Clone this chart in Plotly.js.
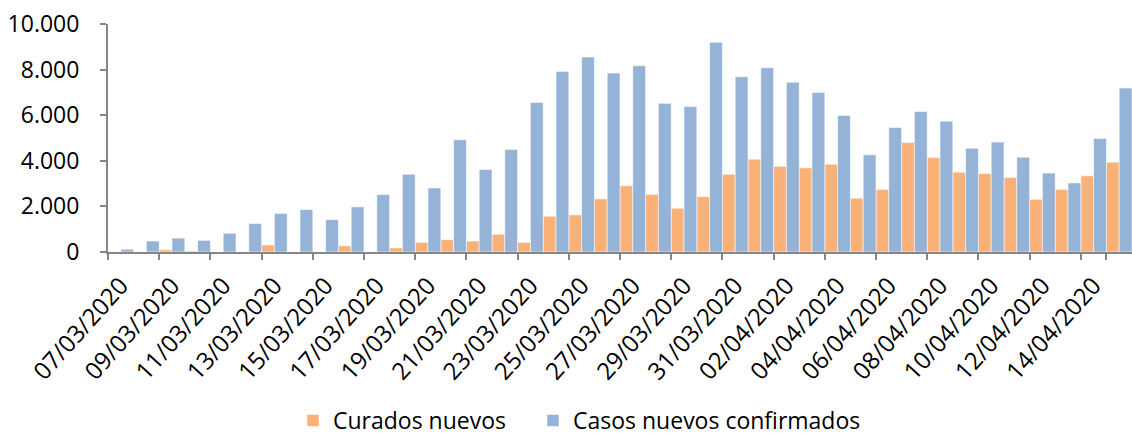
<!DOCTYPE html>
<html>
<head>
<meta charset="utf-8">
<script src="https://cdn.plot.ly/plotly-3.0.1.min.js"></script>
<style>
html,body{margin:0;padding:0;background:#fff;}
#chart{width:1132px;height:442px;}
</style>
</head>
<body>
<div id="chart"></div>
<script>
var dates = ["07/03/2020","08/03/2020","09/03/2020","10/03/2020","11/03/2020","12/03/2020","13/03/2020","14/03/2020","15/03/2020","16/03/2020",
"17/03/2020","18/03/2020","19/03/2020","20/03/2020","21/03/2020","22/03/2020","23/03/2020","24/03/2020","25/03/2020","26/03/2020",
"27/03/2020","28/03/2020","29/03/2020","30/03/2020","31/03/2020","01/04/2020","02/04/2020","03/04/2020","04/04/2020","05/04/2020",
"06/04/2020","07/04/2020","08/04/2020","09/04/2020","10/04/2020","11/04/2020","12/04/2020","13/04/2020","14/04/2020","15/04/2020"];

var curadosNuevos = [0,0,100,45,0,0,310,0,0,270,
0,180,420,540,480,780,420,1570,1630,2330,
2910,2530,1920,2430,3410,4070,3760,3690,3850,2360,
2750,4800,4140,3500,3440,3270,2310,2750,3340,3940];

var casosNuevos = [120,480,610,510,820,1250,1690,1860,1420,1980,
2520,3410,2810,4920,3620,4500,6560,7920,8550,7850,
8170,6520,6380,9200,7690,8080,7450,7000,5990,4260,
5460,6160,5740,4550,4820,4160,3460,3030,4980,7190];

var yTicks = [0,2000,4000,6000,8000,10000];

var labelVals = dates.filter(function(d,i){return i%2===0;});

var font = "'Open Sans', sans-serif";

var traces = [
  {type:"bar", name:"Curados nuevos", x:dates, y:curadosNuevos, legend:"legend",
   marker:{color:"#F9B178", line:{color:"rgba(255,255,255,0.55)", width:1}}},
  {type:"bar", name:"Casos nuevos confirmados", x:dates, y:casosNuevos, legend:"legend2",
   marker:{color:"#95B3D7", line:{color:"rgba(255,255,255,0.55)", width:1}}}
];

var legendFont = {family:font, size:23, color:"#000"};

var layout = {
  width:1132, height:442,
  margin:{l:108, r:0, t:24, b:190},
  paper_bgcolor:"#fff", plot_bgcolor:"#fff",
  separators:",.",
  barmode:"group", bargap:0, bargroupgap:0,
  font:{family:font, size:23, color:"#000"},
  showlegend:true,
  legend:{orientation:"h", xref:"container", yref:"container",
          x:293/1132, xanchor:"left", y:0, yanchor:"bottom",
          font:legendFont, itemclick:false},
  legend2:{orientation:"h", xref:"container", yref:"container",
          x:533/1132, xanchor:"left", y:0, yanchor:"bottom",
          font:legendFont, itemclick:false},
  xaxis:{type:"category", tickmode:"array", tickvals:labelVals, ticktext:labelVals,
         tickson:"boundaries", ticks:"outside", ticklen:6, tickwidth:2, tickcolor:"#868686",
         showline:true, linecolor:"#868686", linewidth:2, showgrid:false,
         tickangle:-48, ticklabelstandoff:8, tickfont:{family:font, size:24, color:"#000"},
         range:[-0.5, 39.5], fixedrange:true, automargin:false},
  yaxis:{range:[0,10000], tickvals:yTicks, tickformat:",d",
         ticks:"outside", ticklen:6, tickwidth:2, tickcolor:"#868686",
         showline:true, linecolor:"#868686", linewidth:2, showgrid:false, zeroline:false,
         ticklabelstandoff:16,
         tickfont:{family:font, size:23, color:"#000"}, fixedrange:true, automargin:false}
};

Plotly.newPlot("chart", traces, layout, {displayModeBar:false, staticPlot:true});
</script>
</body>
</html>
